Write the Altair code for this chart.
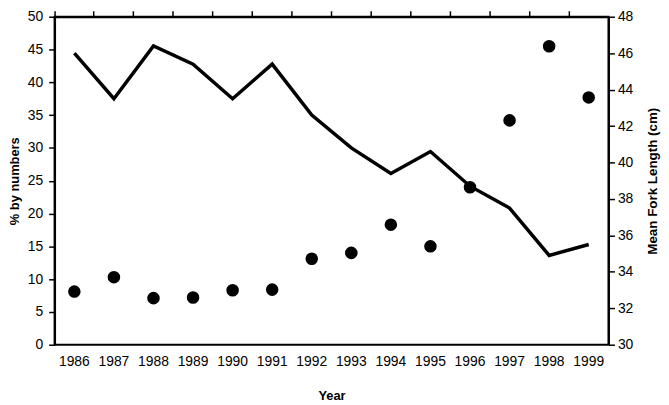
import altair as alt
import pandas as pd

years = [str(y) for y in range(1986, 2000)]
pct_by_numbers = [8.1, 10.3, 7.1, 7.2, 8.3, 8.4, 13.1, 14.0, 18.3, 15.0, 24.0, 34.2, 45.5, 37.7]
mean_fork_length = [46.0, 43.5, 46.4, 45.4, 43.5, 45.4, 42.6, 40.8, 39.4, 40.6, 38.7, 37.5, 34.9, 35.5]

df = pd.DataFrame({"Year": years, "Pct": pct_by_numbers, "FL": mean_fork_length})

FONT = "Liberation Sans"
xscale = alt.Scale(type="band", paddingInner=0, paddingOuter=0)

dots = alt.Chart(df).mark_circle(size=160, color="black", opacity=1).encode(
    x=alt.X("Year:O", scale=xscale,
            axis=alt.Axis(title="Year", ticks=False, domain=False, labelAngle=0,
                          labelPadding=10, titleY=51, titleBaseline="middle")),
    y=alt.Y("Pct:Q", scale=alt.Scale(domain=[0, 50], nice=False),
            axis=alt.Axis(title="% by numbers", values=list(range(0, 51, 5)),
                          tickSize=6, labelPadding=6, titleX=-40, titleBaseline="middle",
                          grid=False)),
)

line = alt.Chart(df).mark_line(color="black", strokeWidth=3.5).encode(
    x=alt.X("Year:O", scale=xscale,
            axis=alt.Axis(title=None, labels=False, bandPosition=0, tickSize=6)),
    y=alt.Y("FL:Q", scale=alt.Scale(domain=[30, 48], nice=False),
            axis=alt.Axis(title="Mean Fork Length (cm)", orient="right",
                          values=list(range(30, 49, 2)), titleAngle=270,
                          titleX=44, titleBaseline="middle", titleFontSize=13.5,
                          tickSize=6, labelPadding=3, grid=False)),
)

chart = alt.layer(dots, line).resolve_scale(y="independent").resolve_axis(x="independent").properties(
    width=559, height=331,
    autosize=alt.AutoSizeParams(type="none"),
    padding={"left": 47, "top": 7, "right": 53, "bottom": 56},
).configure_view(stroke="black", strokeWidth=2).configure_axis(
    domainColor="black", domainWidth=2, tickColor="black", tickWidth=1.5,
    labelFont=FONT, labelFontSize=14, labelColor="black",
    titleFont=FONT, titleFontSize=13, titleFontWeight="bold", titleColor="black",
)

chart.save("out.html", embed_options={"renderer": "svg", "actions": False})
